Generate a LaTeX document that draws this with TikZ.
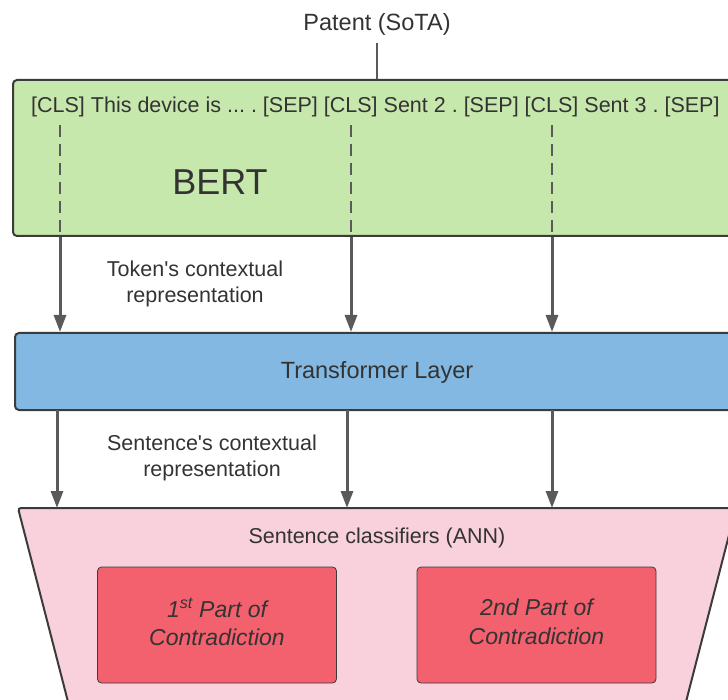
\documentclass[tikz,border=0pt]{standalone}
\usepackage{fontspec}
\setmainfont{Liberation Sans}
\usetikzlibrary{arrows.meta,positioning}

\definecolor{bertgreen}{HTML}{C7E8AD}
\definecolor{layerblue}{HTML}{82B8E2}
\definecolor{annpink}{HTML}{F9D1DC}
\definecolor{partred}{HTML}{F3616E}
\definecolor{edgegray}{HTML}{3B3B3B}
\definecolor{arrowgray}{HTML}{5A5A5A}
\definecolor{txtgray}{HTML}{333333}

\frenchspacing

\tikzset{
  txt/.style={text=txtgray, font=\fontsize{21.5}{26}\selectfont, inner sep=0pt},
  bigbox/.style={draw=edgegray, line width=2pt, rounded corners=4pt, inner sep=0pt},
  partbox/.style={draw=edgegray, line width=0.8pt, rounded corners=4pt, fill=partred,
    minimum width=239pt, minimum height=116pt},
  parttxt/.style={align=center, text=txtgray, inner sep=0pt,
    font=\fontsize{23}{28.5}\selectfont\itshape},
  flow/.style={draw=arrowgray, line width=3pt, -{Triangle[length=17pt,width=12pt]}},
  tokline/.style={draw=arrowgray, line width=1.3pt, dash pattern=on 12pt off 7pt}
}

\begin{document}
\begin{tikzpicture}[x=1pt,y=-1pt]
  \useasboundingbox (0,0) rectangle (728,700);
  \clip (0,0) rectangle (728,700);

  % boxes
  \node[bigbox, fill=bertgreen, minimum width=774pt, minimum height=156pt] (bert) at (400,158) {};
  \node[bigbox, fill=layerblue, minimum width=772pt, minimum height=77pt] (layer) at (401,371.5) {};
  \filldraw[fill=annpink, draw=edgegray, line width=2pt, rounded corners=3pt]
    (18,508) -- (736,508) -- (680,725) -- (74,725) -- cycle;
  \coordinate (anntop) at (377,508);
  \node[partbox] (part1) at (217,625) {};
  \node[partbox] (part2) at (536.5,625) {};

  % texts
  \node[txt, font=\fontsize{23.5}{28}\selectfont] (patent) at (377,24) {Patent (SoTA)};
  \node[txt, anchor=west] (tokens) at (31,107)
    {[CLS] This device is ... . [SEP] [CLS] Sent 2 . [SEP] [CLS] Sent 3 . [SEP]};
  \node[txt, font=\fontsize{36}{40}\selectfont] (bertlbl) at (220,182) {BERT};
  \node[txt, align=center] (toklbl) at (195,284) {Token\textquotesingle s contextual\\representation};
  \node[txt, font=\fontsize{23.5}{28}\selectfont] (layerlbl) at (377,372) {Transformer Layer};
  \node[txt, align=center] (sentlbl) at (212,458) {Sentence\textquotesingle s contextual\\representation};
  \node[txt] (annlbl) at (377,538) {Sentence classifiers (ANN)};
  \node[parttxt] (part1lbl) at ([yshift=3pt]part1.center) {1\textsuperscript{st} Part of\\Contradiction};
  \node[parttxt] (part2lbl) at ([yshift=3pt]part2.center) {2nd Part of\\Contradiction};

  % token positions
  \coordinate (cls1) at (60,125);
  \coordinate (cls2) at (351,125);
  \coordinate (cls3) at (552,125);
  \coordinate (sent1) at (57,410);
  \coordinate (sent2) at (347,410);
  \coordinate (sent3) at (552,410);

  \begin{scope}
    \draw[draw=arrowgray, line width=2.5pt] (patent.south) ++(0,8) -- (patent |- bert.north);
    \draw[tokline] (cls1) -- (cls1 |- bert.south);
    \draw[tokline] (cls2) -- (cls2 |- bert.south);
    \draw[tokline] (cls3) -- (cls3 |- bert.south);
    \draw[flow] (cls1 |- bert.south) -- (cls1 |- layer.north);
    \draw[flow] (cls2 |- bert.south) -- (cls2 |- layer.north);
    \draw[flow] (cls3 |- bert.south) -- (cls3 |- layer.north);
    \draw[flow] (sent1) -- (sent1 |- anntop);
    \draw[flow] (sent2) -- (sent2 |- anntop);
    \draw[flow] (sent3) -- (sent3 |- anntop);
  \end{scope}
\end{tikzpicture}
\end{document}
